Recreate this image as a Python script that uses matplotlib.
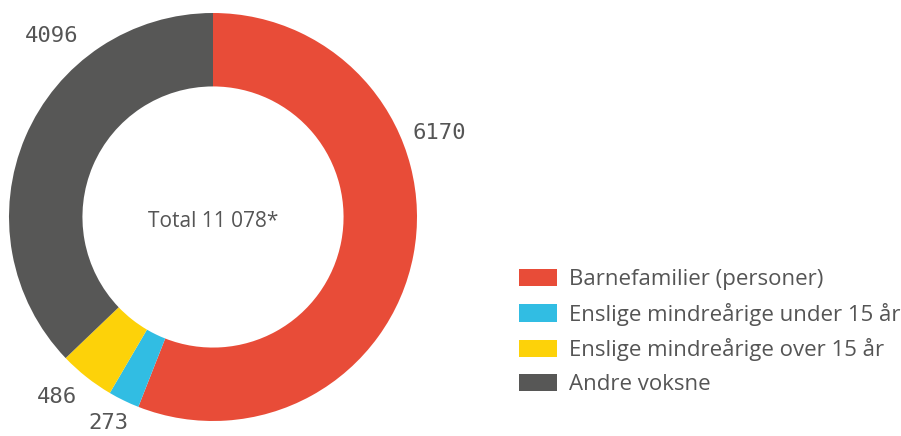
import matplotlib.pyplot as plt

labels = ["Barnefamilier (personer)", "Enslige mindreårige under 15 år",
          "Enslige mindreårige over 15 år", "Andre voksne"]
values = [6170, 273, 486, 4096]
colors = ["#E84C38", "#31BDE3", "#FDD209", "#575756"]
total_text = "Total 11 078*"

# where the value labels sit (axes data coords, pie radius = 1)
label_pos = [(1.11, 0.41), (-0.515, -1.01), (-0.765, -0.88), (-0.79, 0.885)]

fig = plt.figure(figsize=(9.01, 4.36), dpi=100)
ax = fig.add_axes([9 / 901, 15 / 436, 408 / 901, 408 / 436])

wedges, _ = ax.pie(values, colors=colors, startangle=90, counterclock=False,
                   radius=1, wedgeprops=dict(width=0.36, linewidth=0))
ax.set_xlim(-1, 1)
ax.set_ylim(-1, 1)
ax.set_aspect("equal")
ax.axis("off")

for v, (x, y) in zip(values, label_pos):
    ax.text(x, y, str(v), ha="center", va="center", fontsize=16,
            family="DejaVu Sans Mono", color="#555555", clip_on=False)

ax.text(0, -0.02, total_text, ha="center", va="center", fontsize=15,
        family="Open Sans", color="#555555")

fig.legend(wedges, labels, loc="upper left", bbox_to_anchor=(519 / 901, 1 - 269 / 436),
           frameon=False, prop={"family": "Open Sans", "size": 16}, labelcolor="#555555",
           handlelength=1.71, handleheight=0.81, handletextpad=0.54, labelspacing=0.56,
           borderpad=0, borderaxespad=0)

fig.savefig("out.png", dpi=100)
